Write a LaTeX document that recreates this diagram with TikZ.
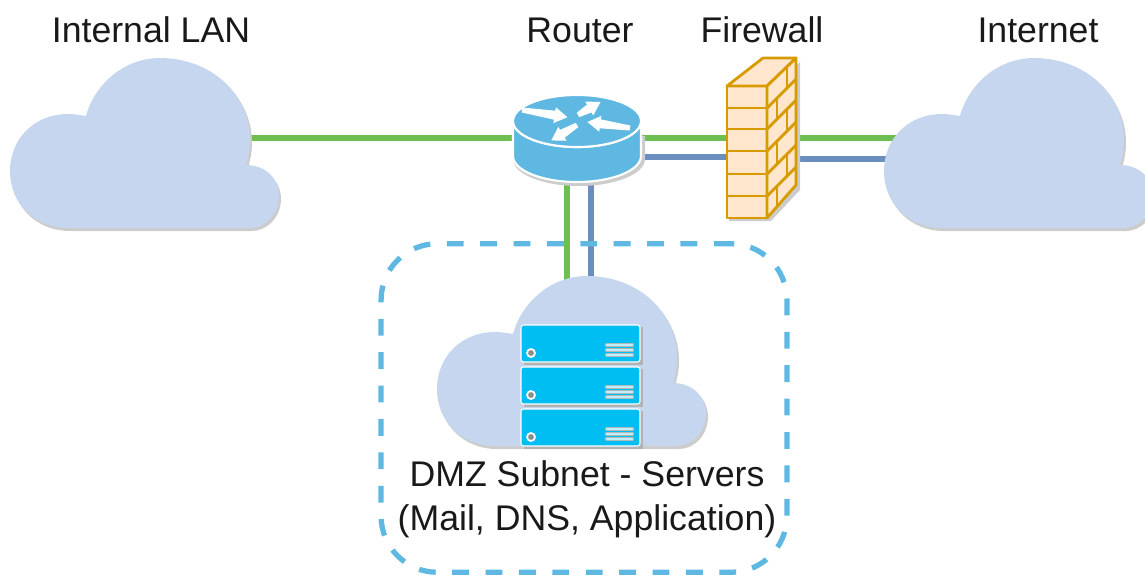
\documentclass[tikz,border=0pt]{standalone}
\usepackage{fontspec}
\setmainfont{Liberation Sans}
\usetikzlibrary{arrows.meta}
\definecolor{linkgreen}{HTML}{6CBF50}
\definecolor{linkblue}{HTML}{6C8EBF}
\definecolor{cloudblue}{HTML}{C5D6EE}
\definecolor{routerblue}{HTML}{5FB8E2}
\definecolor{serverblue}{HTML}{00BEF2}
\definecolor{brickline}{HTML}{D79B00}
\definecolor{brickfill}{HTML}{FFE6CC}
\newcommand{\cloudoutline}{(76,58) .. controls (85,25) and (115,0) .. (150,0)
    .. controls (200,0) and (240,35) .. (240,82)
    .. controls (240,92) and (238,100) .. (236,107)
    .. controls (255,107) and (269,120) .. (269,138)
    .. controls (269,156) and (255,170) .. (240,170)
    -- (58,170) .. controls (25,170) and (0,146) .. (0,113)
    .. controls (0,80) and (25,56) .. (58,56)
    .. controls (64,56) and (70,57) .. (76,58) -- cycle}
\tikzset{
    mylabel/.style = {align=center,font=\fontsize{20.3}{25}\selectfont,text=black!90,inner sep=0pt},
    edgeg/.style = {-,line width=3pt,linkgreen},
    edgeb/.style = {-,line width=3pt,linkblue},
    dmzbox/.style = {draw=routerblue,line width=3pt,dash pattern=on 9.6pt off 9.4pt,rounded corners=32pt,minimum width=231pt,minimum height=187pt,inner sep=0pt},
    softshadow/.style = {fill=black!20,draw=none},
    brick/.style = {draw=brickline,line width=1.6pt,line join=round},
    pics/mycloud/.style = {code={
        \fill[softshadow,shift={(2,3)}] \cloudoutline;
        \fill[cloudblue] \cloudoutline;
    }},
    pics/myserver/.style = {code={
        \fill[black!30] (3,2) rectangle (122,40);
        \draw[white,fill=serverblue,line width=0.6pt,rounded corners=1.5pt] (0,0) rectangle (119,37);
        \draw[white,fill=black!45,line width=1pt] (10,28) circle (4);
        \foreach \sy in {20,25,30} {
            \draw[black!28,line width=2.6pt,line cap=round] (86,\sy) -- (111,\sy);
            \draw[white!75!serverblue,line width=1.2pt,line cap=round] (86,\sy) -- (111,\sy);
        }
    }}
}
\begin{document}
\begin{tikzpicture}[x=0.02cm,y=-0.02cm]
\path[use as bounding box] (0,0) rectangle (1145,576);
% ports
\coordinate (lanport) at (248,138);
\coordinate (routerw) at (512,138);
\coordinate (routerg) at (640,138);
\coordinate (routerb) at (640,157);
\coordinate (routerdg) at (567,182);
\coordinate (routerdb) at (591,182);
\coordinate (wallg) at (730,138);
\coordinate (wallb) at (730,157);
\coordinate (wallog) at (790,138);
\coordinate (wallob) at (790,159);
\coordinate (netg) at (900,138);
\coordinate (netb) at (890,159);
\coordinate (dmzg) at (567,285);
\coordinate (dmzb) at (591,285);
%
\draw[edgeg] (lanport) -- (routerw);
\draw[edgeg] (routerg) -- (wallg);
\draw[edgeb] (routerb) -- (wallb);
\draw[edgeg] (wallog) -- (netg);
\draw[edgeb] (wallob) -- (netb);
\draw[edgeg] (routerdg) -- (dmzg);
\draw[edgeb] (routerdb) -- (dmzb);
%
\node[dmzbox] at (584,408) (dmz) {};
\pic at (10,58) {mycloud};
\pic at (884,58) {mycloud};
\pic at (437,276) {mycloud};
% router
\begin{scope}[shift={(577,121)}]
\fill[softshadow] (-64,25) -- (-64,38) arc[start angle=180,end angle=0,x radius=66,y radius=27] -- (68,15) -- cycle;
\draw[white,fill=routerblue,line width=1.2pt] (-64,0) -- (-64,35) arc[start angle=180,end angle=0,x radius=64,y radius=26] -- (64,0) arc[start angle=0,end angle=180,x radius=64,y radius=26] -- cycle;
\draw[white,fill=routerblue,line width=1.2pt] (0,0) ellipse[x radius=64,y radius=26];
\foreach \ax/\ay/\ang/\len in {-55/-11/-9/46, 1/-6/30/26, 53/7/172/43, 0/4/211/30} {
    \fill[white,shift={(\ax,\ay)},rotate=\ang] (0,-2.5) -- (\len-13,-4.5) -- (\len-13,-8) -- (\len,0) -- (\len-13,8) -- (\len-13,4.5) -- (0,2.5) -- cycle;
}
\end{scope}
% firewall
\fill[softshadow] (729,221) -- (771,221) -- (800,190) -- (800,62) -- (770,90) -- (729,90) -- cycle;
\draw[brick,fill=brickfill] (727,86) rectangle (767,218);
\draw[brick,fill=brickfill] (727,86) -- (763,58) -- (796,58) -- (767,86) -- cycle;
\draw[brick,fill=brickfill] (767,86) -- (796,58) -- (796,185) -- (767,218) -- cycle;
\foreach \wy in {108,129,151,174,196} {
    \draw[brick] (727,\wy) -- (767,\wy);
    \draw[brick] (767,\wy) -- (796,\wy-29);
}
\foreach \wx/\wa/\wb in {787/66/88,777/98/119,787/109/131,777/141/164,787/154/176,777/186/208} {
    \draw[brick] (\wx,\wa) -- (\wx,\wb);
}
% servers
\pic at (521,325) {myserver};
\pic at (521,367) {myserver};
\pic at (521,409) {myserver};
%
\node[mylabel] at (151,30) (lanlabel) {Internal LAN};
\node[mylabel] at (580,30) (routerlabel) {Router};
\node[mylabel] at (762,30) (walllabel) {Firewall};
\node[mylabel] at (1038,30) (netlabel) {Internet};
\node[mylabel] at (587,499) (dmzlabel) {DMZ Subnet - Servers\\(Mail, DNS, Application)};
\end{tikzpicture}
\end{document}
